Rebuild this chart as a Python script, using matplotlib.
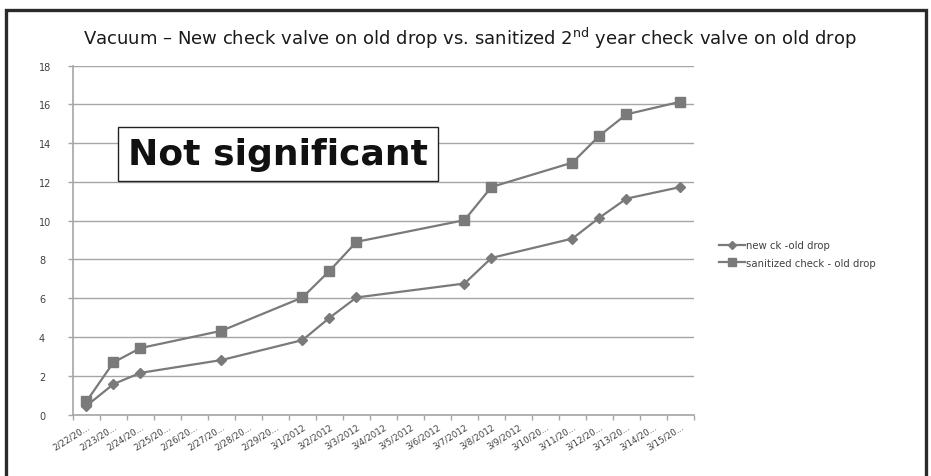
import matplotlib
matplotlib.use("Agg")
import matplotlib.pyplot as plt
import matplotlib.transforms as mtransforms
from matplotlib.patches import Rectangle
from matplotlib.ticker import FixedLocator
import numpy as np

plt.rcParams['font.family'] = ['DejaVu Sans']

# category axis: every day from 2/22 to 3/15, 2012
dates = ['2/22/20...', '2/23/20...', '2/24/20...', '2/25/20...', '2/26/20...',
         '2/27/20...', '2/28/20...', '2/29/20...', '3/1/2012', '3/2/2012',
         '3/3/2012', '3/4/2012', '3/5/2012', '3/6/2012', '3/7/2012',
         '3/8/2012', '3/9/2012', '3/10/20...', '3/11/20...', '3/12/20...',
         '3/13/20...', '3/14/20...', '3/15/20...']

# days that were measured (index into dates)
measured = [0, 1, 2, 5, 8, 9, 10, 14, 15, 18, 19, 20, 22]

new_ck = [0.45, 1.57, 2.15, 2.81, 3.84, 4.99, 6.04, 6.76, 8.08, 9.08, 10.16, 11.14, 11.74]
sanitized = [0.68, 2.69, 3.43, 4.32, 6.04, 7.41, 8.91, 10.03, 11.74, 13.0, 14.39, 15.49, 16.14]

line_col = '#7a7a7a'
grid_col = '#a6a6a6'
text_col = '#404040'

fig = plt.figure(figsize=(9.31, 4.77), dpi=100)
ax = fig.add_axes([0.0784, 0.1289, 0.667, 0.7313])

ax.plot(measured, new_ck, color=line_col, lw=1.6, marker='D', ms=5,
        label='new ck -old drop', zorder=3)
ax.plot(measured, sanitized, color=line_col, lw=1.6, marker='s', ms=7,
        label='sanitized check - old drop', zorder=3)

ax.set_xlim(-0.5, len(dates) - 0.5)
ax.set_ylim(0, 18)
ax.set_yticks(np.arange(0, 19, 2))
ax.yaxis.grid(True, color=grid_col, lw=1.0)
ax.set_axisbelow(True)

ax.set_xticks(range(len(dates)))
ax.set_xticklabels(dates, rotation=32, ha='right', rotation_mode='anchor',
                   fontsize=6.3, color=text_col)
shift = mtransforms.ScaledTranslation(8 / 100, 0, fig.dpi_scale_trans)
for lbl in ax.get_xticklabels():
    lbl.set_transform(lbl.get_transform() + shift)
ax.xaxis.set_minor_locator(FixedLocator(np.arange(-0.5, len(dates), 1)))
ax.tick_params(axis='x', which='major', length=0, pad=5)
ax.tick_params(axis='x', which='minor', length=3.6, color=grid_col, width=1)
ax.tick_params(axis='y', length=3.6, color=grid_col, width=1, labelsize=7,
               labelcolor=text_col, pad=20.9)
for lbl in ax.get_yticklabels():
    lbl.set_horizontalalignment('left')

for s in ['top', 'right']:
    ax.spines[s].set_visible(False)
for s in ['left', 'bottom']:
    ax.spines[s].set_color(grid_col)
    ax.spines[s].set_linewidth(1.2)

ax.legend(loc='center left', bbox_to_anchor=(719 / 931, 1 - 255 / 477),
          bbox_transform=fig.transFigure, frameon=False,
          fontsize=7.3, labelcolor=text_col, handlelength=2.6,
          handletextpad=0.1, borderaxespad=0, borderpad=0, labelspacing=0.7,
          markerscale=0.8)

fig.text(0.505, 0.92, 'Vacuum \u2013 New check valve on old drop vs. sanitized 2$^{\\mathregular{nd}}$ year check valve on old drop',
         ha='center', va='center', fontsize=13, color='#1a1a1a')

fig.text(0.1375, 0.6745, 'Not significant', ha='left', va='center',
         fontsize=26, fontweight='bold', color='#111111',
         bbox=dict(boxstyle='square,pad=0.28', fc='white', ec='#222222', lw=1.0))

# slide frame around the chart
fig.patches.append(Rectangle((5.5 / 931, -0.05), 920 / 931, 1.05 - 11 / 477,
                             transform=fig.transFigure, fill=False,
                             ec='#2a2a2a', lw=2.4))

fig.savefig('out.png', dpi=100, facecolor='white')
